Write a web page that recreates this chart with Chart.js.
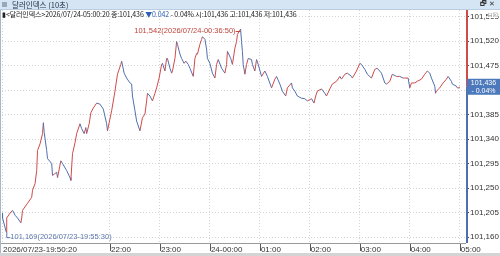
<!DOCTYPE html>
<html>
<head>
<meta charset="utf-8">
<script src="https://cdn.jsdelivr.net/npm/chart.js@4/dist/chart.umd.min.js"></script>
<style>
  body { margin: 0; width: 500px; height: 256px; overflow: hidden; background: #fff; font-family: "Noto Sans CJK KR", sans-serif; }
  #wrap { position: relative; width: 500px; height: 256px; }
  #titlebar { position: absolute; left: 0; top: 0; width: 500px; height: 9px; background: #d6e5f4; border-bottom: 1px solid #b9cde3; font-size: 7.5px; line-height: 9px; color: #1c2b42; }
  #titlebar .ico { position: absolute; left: 2px; top: 2px; width: 5px; height: 5px; background: #9aa7b8; }
  #titlebar .txt { position: absolute; left: 12px; top: 0; }
  #titlebar .btn { position: absolute; right: 5px; top: 0; font-family: "DejaVu Sans", sans-serif; font-size: 7px; font-weight: bold; color: #333; }
  #info { position: absolute; left: 2px; top: 10px; font-size: 7px; line-height: 9px; color: #222; white-space: nowrap; letter-spacing: -0.1px; }
  #info .dn { color: #2f5fb0; }
  #mini { position: absolute; right: 2px; top: 11px; font-family: "DejaVu Sans", sans-serif; font-size: 6px; color: #888; background: #fff; }
  #leftedge { position: absolute; left: 0; top: 10px; width: 1px; height: 246px; background: #a9b4c4; }
  #bottom { position: absolute; left: 0; top: 253px; width: 500px; height: 3px; background: #d4d4d4; }
  canvas { position: absolute; left: 0; top: 0; }
</style>
</head>
<body>
<div id="wrap">
  <canvas id="chart" width="500" height="256"></canvas>
  <div id="titlebar"><div class="ico"></div><div class="txt">달러인덱스 (10초)</div><div class="btn">🗗 ✕</div></div>
  <div id="info">▮&lt;달러인덱스&gt;2026/07/24-05:00:20 종:101,436 <span class="dn">▼0.042</span> - 0.04% 시:101,436 고:101,436 저:101,436</div>
  <div id="mini">⊟☒</div>
  <div id="leftedge"></div>
  <div id="bottom"></div>
</div>
<script>
// 달러인덱스 10초봉 (종가 흐름)
const times = [
  '19:50:20','19:51','19:55:30','19:56','20:00','20:03','20:06','20:09','20:13','20:14','20:15',
  '20:21','20:26','20:27','20:30','20:32','20:33','20:36','20:39','20:40','20:41','20:44','20:45',
  '20:50','20:51','20:56','20:57','21:01','21:03','21:08','21:12','21:13','21:15','21:18','21:20',
  '21:24','21:26','21:29','21:31','21:32','21:35','21:37','21:40','21:44','21:48','21:52','21:56',
  '21:57','22:02','22:06','22:09','22:13','22:14','22:17','22:20','22:24','22:26','22:27','22:30',
  '22:32','22:36','22:39','22:42','22:44','22:45','22:48','22:51','22:54','22:56','22:59','23:02',
  '23:03','23:06','23:08','23:09','23:12','23:14','23:15','23:18','23:20','23:21','23:24','23:26',
  '23:29','23:31','23:34','23:36','23:40','23:42','23:44','23:45','23:48','23:50','23:51','23:54',
  '23:56','23:57','00:00','00:03','00:06','00:08','00:10','00:14','00:18','00:20','00:21','00:25',
  '00:27','00:30','00:32','00:33','00:36:50','00:38','00:39','00:40','00:42','00:44','00:46','00:50',
  '00:51','00:54','00:56','00:58','01:02','01:06','01:09','01:14','01:18','01:20','01:24','01:27',
  '01:31','01:33','01:38','01:39','01:42','01:45','01:50','01:54','01:57','02:02','02:05','02:07',
  '02:09','02:14','02:18','02:20','02:24','02:27','02:32','02:36','02:38','02:42','02:45','02:50',
  '02:51','02:56','03:00','03:02','03:06','03:09','03:14','03:18','03:21','03:26','03:30','03:32',
  '03:36','03:39','03:44','03:48','03:52','03:58','04:00','04:02','04:06','04:09','04:14','04:18',
  '04:21','04:24','04:26','04:30','04:31','04:32','04:36','04:39','04:44','04:46','04:50','04:51',
  '04:56','04:57','04:59','05:00:20'
];
const closes = [
  101.204,101.195,101.169,101.195,101.204,101.209,101.200,101.195,101.186,101.195,101.209,
  101.222,101.233,101.246,101.258,101.282,101.319,101.331,101.350,101.370,101.352,101.319,101.304,
  101.295,101.273,101.279,101.269,101.300,101.295,101.282,101.269,101.264,101.313,101.333,101.350,
  101.368,101.359,101.350,101.361,101.350,101.368,101.388,101.397,101.406,101.404,101.395,101.368,
  101.355,101.392,101.428,101.459,101.477,101.483,101.461,101.452,101.443,101.441,101.419,101.392,
  101.373,101.355,101.379,101.386,101.410,101.424,101.419,101.410,101.424,101.434,101.452,101.477,
  101.479,101.465,101.488,101.488,101.470,101.461,101.465,101.488,101.519,101.514,101.496,101.488,
  101.479,101.483,101.477,101.470,101.455,101.488,101.497,101.496,101.514,101.523,101.528,101.523,
  101.505,101.488,101.479,101.461,101.452,101.477,101.486,101.470,101.461,101.477,101.501,101.488,
  101.477,101.507,101.519,101.532,101.542,101.519,101.501,101.477,101.459,101.477,101.488,101.486,
  101.477,101.465,101.486,101.477,101.455,101.465,101.455,101.434,101.450,101.455,101.441,101.428,
  101.419,101.434,101.443,101.434,101.428,101.419,101.415,101.414,101.410,101.414,101.406,101.419,
  101.428,101.432,101.424,101.419,101.432,101.441,101.446,101.455,101.450,101.459,101.461,101.455,
  101.452,101.465,101.479,101.477,101.468,101.459,101.452,101.468,101.470,101.461,101.443,101.441,
  101.446,101.459,101.455,101.455,101.452,101.452,101.434,101.443,101.443,101.446,101.450,101.459,
  101.465,101.461,101.452,101.437,101.424,101.428,101.434,101.441,101.450,101.455,101.446,101.441,
  101.437,101.434,101.434,101.436
];
const yTicks = [101.160, 101.205, 101.250, 101.295, 101.340, 101.385, 101.430, 101.475, 101.520, 101.565];
const hourTicks = ['19:50:20', '22:00', '23:00', '00:00', '01:00', '02:00', '03:00', '04:00', '05:00'];
const hourLabels = ['2026/07/23-19:50:20', '22:00', '23:00', '24-00:00', '01:00', '02:00', '03:00', '04:00', '05:00'];
const lastPrice = 101.436;
const lastChange = '- 0.04%';
const maxText = '101,542(2026/07/24-00:36:50)';
const minText = '101,169(2026/07/23-19:55:30)';

const UP = '#d04a4a';
const DOWN = '#4f6fae';
const FONT = '"Liberation Sans Narrow", "Liberation Sans", sans-serif';

// "HH:MM[:SS]" -> 분 (자정 이후는 다음날로)
function toMin(t) {
    const p = t.split(':').map(Number);
    let m = p[0] * 60 + p[1] + (p[2] || 0) / 60;
    if (p[0] < 12) m += 1440;
    return m;
}
const fmt = v => v.toFixed(3).replace('.', ',');

const points = times.map((t, i) => ({ x: toMin(t), y: closes[i] }));

// 축선, 현재가 박스, 최고/최저 표시
const overlay = {
    id: 'overlay',
    afterDraw(chart) {
        const { ctx, chartArea: a, scales: { x, y } } = chart;
        const py = y.getPixelForValue(lastPrice);
        ctx.save();
        // 하단 축선
        ctx.strokeStyle = '#9a9a9a';
        ctx.lineWidth = 1;
        ctx.beginPath();
        ctx.moveTo(0, a.bottom + 0.5);
        ctx.lineTo(a.right, a.bottom + 0.5);
        ctx.stroke();
        // x 눈금
        ctx.strokeStyle = '#555';
        x.ticks.forEach((t, i) => {
            if (i === 0) return;
            const px = Math.round(x.getPixelForValue(t.value)) + 0.5;
            ctx.beginPath();
            ctx.moveTo(px, a.bottom + 1);
            ctx.lineTo(px, a.bottom + 8);
            ctx.stroke();
        });
        // 오른쪽 축선 (현재가 위 빨강, 아래 파랑)
        ctx.lineWidth = 2;
        ctx.strokeStyle = UP;
        ctx.beginPath();
        ctx.moveTo(a.right + 1, a.top);
        ctx.lineTo(a.right + 1, py);
        ctx.stroke();
        ctx.strokeStyle = DOWN;
        ctx.beginPath();
        ctx.moveTo(a.right + 1, py);
        ctx.lineTo(a.right + 1, a.bottom);
        ctx.stroke();
        // 현재가 박스
        ctx.fillStyle = '#4c79bb';
        ctx.fillRect(a.right + 1, py - 8, 500 - a.right - 1, 16);
        ctx.fillStyle = '#fff';
        ctx.font = '7px ' + FONT;
        ctx.textAlign = 'center';
        ctx.textBaseline = 'middle';
        const cx = (a.right + 501) / 2;
        ctx.fillText(fmt(lastPrice), cx, py - 3.5);
        ctx.fillText(lastChange, cx, py + 4);

        // 최고가
        let iMax = 0, iMin = 0;
        closes.forEach((v, i) => { if (v > closes[iMax]) iMax = i; if (v < closes[iMin]) iMin = i; });
        const hx = x.getPixelForValue(points[iMax].x), hy = y.getPixelForValue(closes[iMax]);
        ctx.font = '7.5px ' + FONT;
        ctx.textAlign = 'right';
        ctx.fillStyle = '#c0443c';
        ctx.fillText(maxText, hx - 5, hy + 2);
        ctx.strokeStyle = '#c0443c';
        ctx.lineWidth = 1;
        ctx.beginPath();
        ctx.moveTo(hx - 5, hy + 2.5);
        ctx.lineTo(hx, hy + 2.5);
        ctx.stroke();
        // 최저가
        const lx = x.getPixelForValue(points[iMin].x), ly = y.getPixelForValue(closes[iMin]);
        ctx.strokeStyle = '#5b78ad';
        ctx.beginPath();
        ctx.moveTo(lx + 0.5, ly);
        ctx.lineTo(lx + 0.5, ly + 5.5);
        ctx.lineTo(lx + 4, ly + 5.5);
        ctx.stroke();
        ctx.textAlign = 'left';
        ctx.fillStyle = '#5b78ad';
        ctx.fillText(minText, lx + 4, ly + 5);
        ctx.restore();
    }
};

new Chart(document.getElementById('chart'), {
    type: 'line',
    data: {
        datasets: [{
            data: points,
            borderWidth: 1,
            pointRadius: 0,
            tension: 0,
            segment: {
                borderColor: c => c.p1.parsed.y >= c.p0.parsed.y ? UP : DOWN
            }
        }]
    },
    options: {
        responsive: false,
        animation: false,
        events: [],
        layout: { padding: { left: 2, top: 10, right: 0, bottom: 0 } },
        plugins: { legend: { display: false }, tooltip: { enabled: false } },
        scales: {
            x: {
                type: 'linear',
                min: toMin('19:50:20'),
                max: toMin('05:07:30'),
                afterBuildTicks: s => { s.ticks = hourTicks.map(t => ({ value: toMin(t) })); },
                afterFit: s => { s.height = 13; },
                border: { display: false, dash: [1, 2] },
                grid: { color: '#d4d4d4', drawTicks: false },
                ticks: {
                    autoSkip: false,
                    maxRotation: 0,
                    align: 'start',
                    labelOffset: 1,
                    padding: 2,
                    color: '#333',
                    font: { family: FONT, size: 8 },
                    callback: (v, i) => hourLabels[i]
                }
            },
            y: {
                position: 'right',
                min: 101.149,
                max: 101.577,
                afterBuildTicks: s => { s.ticks = yTicks.map(v => ({ value: v })); },
                afterFit: s => { s.width = 34; },
                border: { display: false, dash: [1, 2] },
                grid: { color: '#d4d4d4', tickLength: 3, tickColor: '#444', tickBorderDash: [] },
                ticks: {
                    padding: 1,
                    color: '#333',
                    font: { family: FONT, size: 8 },
                    callback: v => fmt(v)
                }
            }
        }
    },
    plugins: [overlay]
});
</script>
</body>
</html>
